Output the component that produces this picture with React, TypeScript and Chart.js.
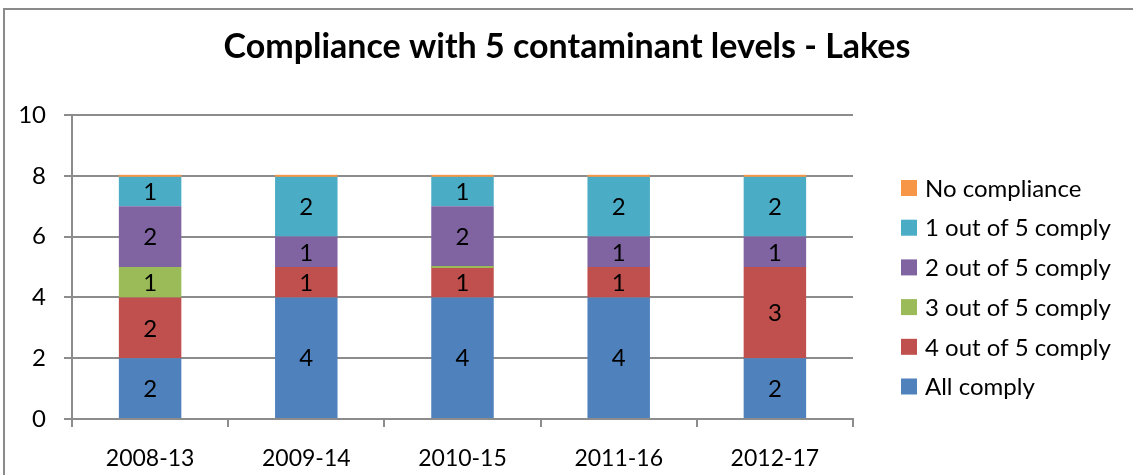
import React, { useEffect, useRef } from "react";
import { Chart, registerables } from "chart.js";

Chart.register(...registerables);

const categories = ["2008-13", "2009-14", "2010-15", "2011-16", "2012-17"];
const allComply = [2, 4, 4, 4, 2];
const fourOfFive = [2, 1, 1, 1, 3];
const threeOfFive = [1, null, 0, null, null];
const twoOfFive = [2, 1, 2, 1, 1];
const oneOfFive = [1, 2, 1, 2, 2];
const noCompliance = [0, 0, 0, 0, 0];
const yTicks = [0, 2, 4, 6, 8, 10];
const titleText = "Compliance with 5 contaminant levels - Lakes";

const FONT = "Lato, 'DejaVu Sans', sans-serif";
const GRID = "#8c8c8c";

const framePlugin = {
  id: "frame",
  beforeDraw(chart: any) {
    const ctx = chart.ctx;
    ctx.save();
    ctx.fillStyle = "#ffffff";
    ctx.fillRect(0, 0, chart.width, chart.height);
    ctx.strokeStyle = "#8a8a8a";
    ctx.lineWidth = 2;
    ctx.strokeRect(4, 9, 2000, 2000);
    ctx.fillStyle = "#000000";
    ctx.font = `bold 34px ${FONT}`;
    ctx.textAlign = "center";
    ctx.textBaseline = "middle";
    ctx.fillText(titleText, 567, 47);
    ctx.restore();
  },
};

const labelPlugin = {
  id: "barLabels",
  afterDatasetsDraw(chart: any) {
    const ctx = chart.ctx;
    ctx.save();
    // zero-value segments drawn as thin lines in the series colour
    chart.data.datasets.forEach((ds: any, di: number) => {
      const meta = chart.getDatasetMeta(di);
      meta.data.forEach((el: any, i: number) => {
        if (ds.data[i] === 0) {
          ctx.fillStyle = ds.backgroundColor;
          ctx.fillRect(el.x - el.width / 2, el.y - 1, el.width, 2);
        }
      });
    });
    ctx.font = `24px ${FONT}`;
    ctx.fillStyle = "#000000";
    ctx.textAlign = "center";
    ctx.textBaseline = "middle";
    chart.data.datasets.forEach((ds: any, di: number) => {
      const meta = chart.getDatasetMeta(di);
      meta.data.forEach((el: any, i: number) => {
        const v = ds.data[i];
        if (v === null || v === undefined || v === 0) return;
        ctx.fillText(String(v), el.x, (el.y + el.base) / 2 + 1);
      });
    });
    ctx.restore();
  },
};

const legendPlugin = {
  id: "sideLegend",
  afterDraw(chart: any) {
    const ctx = chart.ctx;
    const items = [...chart.data.datasets].reverse();
    ctx.save();
    ctx.font = `24px ${FONT}`;
    ctx.textAlign = "left";
    ctx.textBaseline = "middle";
    items.forEach((ds: any, i: number) => {
      const cy = 188 + i * 39.7;
      ctx.fillStyle = ds.backgroundColor;
      ctx.fillRect(901, cy - 8, 16, 16);
      ctx.fillStyle = "#000000";
      ctx.fillText(ds.label, 925, cy + 1);
    });
    ctx.restore();
  },
};

export default function App() {
  const ref = useRef<HTMLCanvasElement>(null);
  useEffect(() => {
    if (!ref.current) return;
    const chart = new Chart(ref.current, {
      type: "bar",
      data: {
        labels: categories,
        datasets: [
          { label: "All comply", data: allComply, backgroundColor: "#4F81BD" },
          { label: "4 out of 5 comply", data: fourOfFive, backgroundColor: "#C0504D" },
          { label: "3 out of 5 comply", data: threeOfFive as any, backgroundColor: "#9BBB59" },
          { label: "2 out of 5 comply", data: twoOfFive, backgroundColor: "#8064A2" },
          { label: "1 out of 5 comply", data: oneOfFive, backgroundColor: "#4BACC6" },
          { label: "No compliance", data: noCompliance, backgroundColor: "#F79646" },
        ],
      },
      options: {
        responsive: false,
        animation: false,
        layout: { padding: { left: 0, right: 280, top: 115, bottom: 0 } },
        datasets: { bar: { barPercentage: 0.4, categoryPercentage: 1, borderWidth: 0 } },
        plugins: {
          legend: { display: false },
          tooltip: { enabled: false },
          title: { display: false },
        },
        scales: {
          x: {
            stacked: true,
            grid: { offset: true, drawOnChartArea: false, drawTicks: true, tickLength: 8, color: GRID, lineWidth: 2 },
            border: { color: GRID, width: 2 },
            ticks: { color: "#000000", font: { family: FONT, size: 23 }, padding: 18, maxRotation: 0 },
            afterFit: (s: any) => { s.height = 56; },
          },
          y: {
            stacked: true,
            min: 0,
            max: 10,
            afterBuildTicks: (s: any) => { s.ticks = yTicks.map((v) => ({ value: v })); },
            grid: { color: GRID, lineWidth: 2, tickLength: 8, drawTicks: true },
            border: { color: GRID, width: 2 },
            ticks: { color: "#000000", font: { family: FONT, size: 24 }, padding: 18 },
            afterFit: (s: any) => { s.width = 72; },
          },
        },
      },
      plugins: [framePlugin, labelPlugin, legendPlugin],
    });
    return () => chart.destroy();
  }, []);
  return (
    <div style={{ position: "fixed", left: 0, top: 0, width: 1133, height: 475 }}>
      <canvas ref={ref} width={1133} height={475} style={{ width: 1133, height: 475, display: "block" }} />
    </div>
  );
}
